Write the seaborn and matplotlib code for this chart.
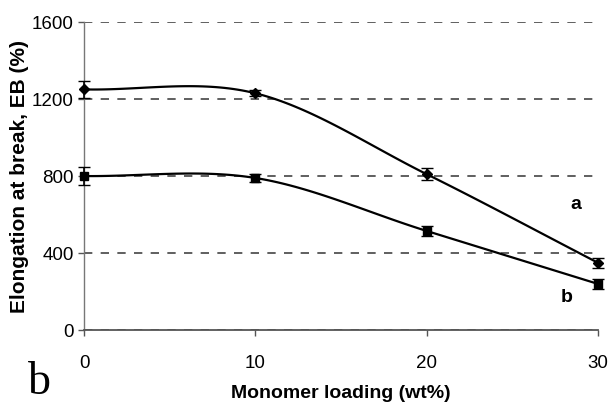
import numpy as np
import pandas as pd
import matplotlib as mpl
import matplotlib.pyplot as plt
plt.switch_backend('Agg')
import seaborn as sns

loading = [0, 10, 20, 30]
eb_a = [1250, 1230, 810, 350]
eb_a_err = [45, 15, 30, 25]
eb_b = [800, 790, 515, 240]
eb_b_err = [45, 20, 25, 25]


def smooth(x, y, n=40):
    # catmull-rom style smoothing like excel's smoothed line
    x = np.asarray(x, float); y = np.asarray(y, float)
    px = np.concatenate([[2*x[0]-x[1]], x, [2*x[-1]-x[-2]]])
    py = np.concatenate([[2*y[0]-y[1]], y, [2*y[-1]-y[-2]]])
    xs, ys = [], []
    t = np.linspace(0, 1, n)
    for i in range(1, len(px)-2):
        for arr, out in ((px, xs), (py, ys)):
            p0, p1, p2, p3 = arr[i-1:i+3]
            out.extend(0.5*((2*p1) + (-p0+p2)*t + (2*p0-5*p1+4*p2-p3)*t**2 + (-p0+3*p1-3*p2+p3)*t**3))
    return pd.DataFrame({"x": xs, "y": ys})


sns.set_style("white")
plt.rcParams['font.family'] = ['Liberation Sans Narrow', 'Liberation Sans', 'DejaVu Sans']
plt.rcParams['text.color'] = 'black'
plt.rcParams['axes.labelcolor'] = 'black'
plt.rcParams['xtick.color'] = 'black'
plt.rcParams['ytick.color'] = 'black'

fig = plt.figure(figsize=(6.1, 4.08), dpi=100)
ax = fig.add_axes([0.138, 0.191, 0.842, 0.755])

for vals in (eb_a, eb_b):
    sns.lineplot(data=smooth(loading, vals), x="x", y="y", ax=ax, color="black",
                 linewidth=1.6, sort=False, estimator=None, clip_on=False)

ax.errorbar(loading, eb_a, yerr=eb_a_err, fmt="D", color="black", markersize=5,
            capsize=4, elinewidth=1.2, clip_on=False, zorder=5)
ax.errorbar(loading, eb_b, yerr=eb_b_err, fmt="s", color="black", markersize=6,
            capsize=4, elinewidth=1.2, clip_on=False, zorder=5)

ax.set_xlim(0, 30)
ax.set_ylim(0, 1600)
ax.xaxis.set_major_locator(mpl.ticker.MultipleLocator(10))
ax.yaxis.set_major_locator(mpl.ticker.MultipleLocator(400))
ax.yaxis.grid(True, linestyle=(0, (5, 5)), color="#444444", linewidth=1.2)
ax.set_axisbelow(True)

for s in ("top", "right"):
    ax.spines[s].set_visible(False)
ax.spines["left"].set_color("#777777")
ax.spines["left"].set_linewidth(1.0)
ax.spines["bottom"].set_color("#555555")
ax.spines["bottom"].set_linewidth(1.3)
ax.tick_params(axis="both", direction="out", length=4, width=1, color="#555555",
               labelsize=13.5, bottom=True, left=True, labelcolor="black")
ax.tick_params(axis="x", pad=14)

ax.set_xlabel("Monomer loading (wt%)", fontsize=14, fontweight="bold",
              family=['Liberation Sans', 'DejaVu Sans'], labelpad=9)
ax.set_ylabel("Elongation at break, EB (%)", fontsize=15, fontweight="bold",
              family=['Liberation Sans', 'DejaVu Sans'], labelpad=2)

ax.text(28.7, 650, "a", fontsize=14, fontweight="bold", ha="center", va="center",
        family=['Liberation Sans', 'DejaVu Sans'])
ax.text(28.2, 170, "b", fontsize=14, fontweight="bold", ha="center", va="center",
        family=['Liberation Sans', 'DejaVu Sans'])

fig.text(0.065, 0.035, "b", fontsize=33, family=['Liberation Serif', 'DejaVu Serif'],
         ha="center", va="baseline")

plt.savefig("out.png", dpi=100)
